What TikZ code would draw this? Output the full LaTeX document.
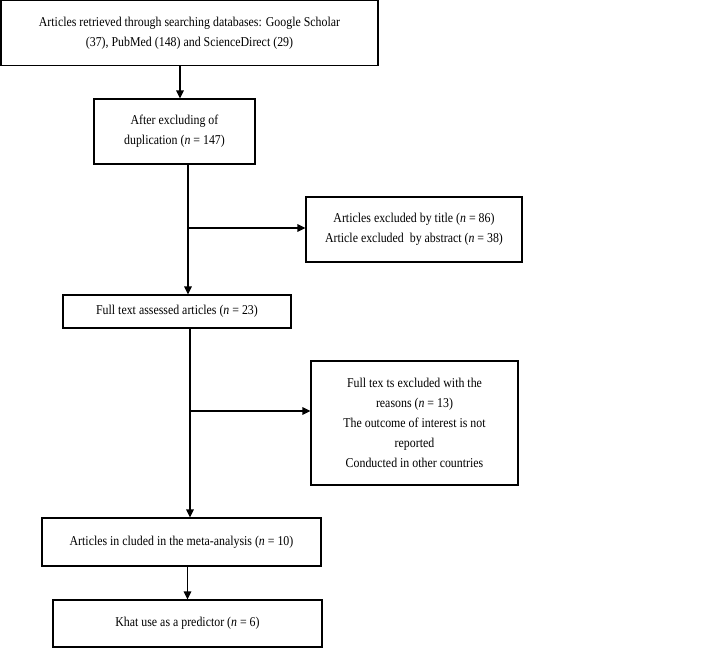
\documentclass[tikz,border=0pt]{standalone}
\usepackage{fontspec}
\setmainfont{Liberation Serif}[FakeStretch=0.88]
\usetikzlibrary{arrows.meta}

\begin{document}
\begin{tikzpicture}[x=1pt, y=-1pt, font=\fontsize{13.5}{20}\selectfont,
			box/.style={draw, line width=1.1pt, align=center, inner sep=0pt},
			arr/.style={line width=1.1pt, -{Triangle[length=8pt,width=7.5pt]}}]
			\useasboundingbox (0,0) rectangle (709,648);
			\node[box, minimum width=377pt, minimum height=65pt] (retrieved) at (189.5,33)
				{Articles retrieved through searching databases: Google Scholar\\(37), PubMed (148) and ScienceDirect (29)};
			\node[box, minimum width=161pt, minimum height=65pt] (duplication) at (174.5,131.5)
				{After excluding of\\duplication (\textit{n} = 147)};
			\node[box, minimum width=216pt, minimum height=65pt] (excluded) at (414,229.5)
				{Articles excluded by title (\textit{n} = 86)\\Article excluded\ \ by abstract (\textit{n} = 38)};
			\node[box, minimum width=228pt, minimum height=33pt] (fulltext) at (177,311.5)
				{Full text assessed articles (\textit{n} = 23)};
			\node[box, minimum width=207pt, minimum height=124pt] (reasons) at (414.5,423)
				{Full tex ts excluded with the\\reasons (\textit{n} = 13)\\The outcome of interest is not\\reported\\Conducted in other countries};
			\node[box, minimum width=279pt, minimum height=48pt] (included) at (181.5,542)
				{Articles in cluded in the meta-analysis (\textit{n} = 10)};
			\node[box, minimum width=269pt, minimum height=47pt] (khat) at (187.5,623.5)
				{Khat use as a predictor (\textit{n} = 6)};
			\coordinate (split1) at (188,228);
			\coordinate (split2) at (190,411);
			\draw[arr] ([xshift=5.5pt]duplication.north |- retrieved.south) -- ([xshift=5.5pt]duplication.north);
			\draw[line width=1.1pt] (duplication.south -| split1) -- (split1);
			\draw[arr] (split1) -- (excluded.west |- split1);
			\draw[arr] (split1) -- (fulltext.north -| split1);
			\draw[line width=1.1pt] (fulltext.south -| split2) -- (split2);
			\draw[arr] (split2) -- (reasons.west |- split2);
			\draw[arr] (split2) -- (included.north -| split2);
			\draw[arr] (included.south -| khat.north) -- (khat.north);
		\end{tikzpicture}
\end{document}
